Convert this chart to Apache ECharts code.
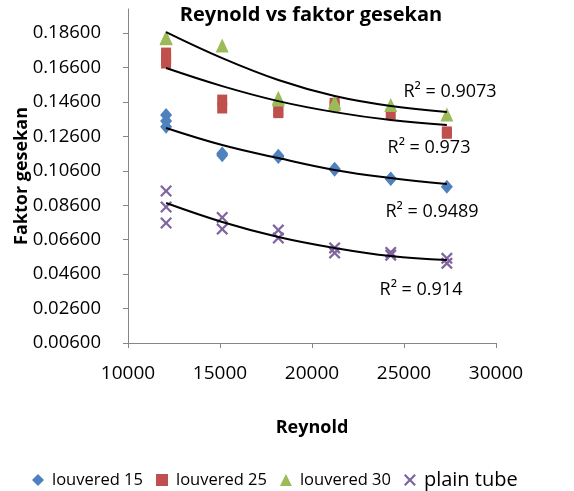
<!DOCTYPE html>
<html>
<head>
<meta charset="utf-8">
<script src="https://cdn.jsdelivr.net/npm/echarts@6/dist/echarts.min.js"></script>
<style>html,body{margin:0;padding:0;background:#fff}#c{width:574px;height:491px}</style>
</head>
<body>
<div id="c"></div>
<script>
// ---- data ----
const l15X = [12070, 12070, 12070, 15120, 15120, 18170, 18170, 21230, 21230, 24280, 24280, 27330];
const l15Y = [0.1385, 0.1350, 0.1316, 0.1160, 0.1150, 0.1148, 0.1140, 0.1072, 0.1066, 0.1016, 0.1012, 0.0968];
const l25X = [12070, 12070, 12070, 15120, 15120, 18170, 18170, 21230, 21230, 24280, 27330, 27330];
const l25Y = [0.1744, 0.1715, 0.1686, 0.1471, 0.1425, 0.1405, 0.1398, 0.1452, 0.1436, 0.1390, 0.1286, 0.1278];
const l30X = [12070, 12070, 15120, 18170, 18170, 21230, 21230, 24280, 27330];
const l30Y = [0.1835, 0.1830, 0.1788, 0.1485, 0.1475, 0.1460, 0.1448, 0.1442, 0.1387];
const plainX = [12070, 12070, 12070, 15120, 15120, 18170, 18170, 21230, 21230, 24280, 24280, 27330, 27330];
const plainY = [0.0943, 0.0850, 0.0757, 0.0789, 0.0722, 0.0716, 0.0670, 0.0612, 0.0583, 0.0586, 0.0570, 0.0552, 0.0523];

// trendlines
const trendX = [12070, 15120, 18170, 21230, 24280, 27330];
const trend15 = [0.1309, 0.1210, 0.1134, 0.1065, 0.1018, 0.0983];
const trend25 = [0.1657, 0.1552, 0.1465, 0.1401, 0.1355, 0.1326];
const trend30 = [0.1866, 0.1715, 0.1588, 0.1495, 0.1437, 0.1402];
const trendPlain = [0.0873, 0.0763, 0.0676, 0.0612, 0.0565, 0.0542];

const seriesNames = ['louvered 15', 'louvered 25', 'louvered 30', 'plain tube'];
const r2Labels = ['R² = 0.9489', 'R² = 0.973', 'R² = 0.9073', 'R² = 0.914'];
const yTicks = [0.006, 0.026, 0.046, 0.066, 0.086, 0.106, 0.126, 0.146, 0.166, 0.186];
const xTicks = [10000, 15000, 20000, 25000, 30000];

const FONT = 'Open Sans';
const colors = ['#4F81BD', '#C0504D', '#9BBB59', '#8064A2'];
const xPath = 'path://M0,1.6 L1.6,0 L6,4.4 L10.4,0 L12,1.6 L7.6,6 L12,10.4 L10.4,12 L6,7.6 L1.6,12 L0,10.4 L4.4,6 Z';
const symbols = ['diamond', 'rect', 'triangle', xPath];
const symSizes = [[12, 14], [10, 11], [13, 14], [12, 12]];

const zip = (xs, ys) => xs.map((x, i) => [x, ys[i]]);
const pts = [zip(l15X, l15Y), zip(l25X, l25Y), zip(l30X, l30Y), zip(plainX, plainY)];
const trends = [trend15, trend25, trend30, trendPlain];

const chart = echarts.init(document.getElementById('c'), null, {renderer: 'canvas'});

const series = [];
pts.forEach((d, i) => {
  series.push({
    name: seriesNames[i], type: 'scatter', data: d,
    symbol: symbols[i], symbolSize: symSizes[i],
    itemStyle: {color: colors[i], opacity: 1}, emphasis: {disabled: true}
  });
});
trends.forEach((t, i) => {
  series.push({
    name: 'trend' + i, type: 'line', data: zip(trendX, t), smooth: 0.4,
    showSymbol: false, symbol: 'none', lineStyle: {color: '#000', width: 2},
    emphasis: {disabled: true}, silent: true
  });
});

const r2Pos = [[432, 212], [429, 148], [450, 92], [421, 290]];

chart.setOption({
  animation: false,
  backgroundColor: '#fff',
  textStyle: {fontFamily: FONT},
  title: {
    text: 'Reynold vs faktor gesekan', left: 306, top: 0, textAlign: 'center',
    textStyle: {fontFamily: FONT, fontWeight: 'bold', fontSize: 20, color: '#000'}
  },
  grid: {left: 128, top: 9, width: 368, height: 334, containLabel: false},
  legend: {
    left: 27, top: 465, itemGap: 13, itemWidth: 12, itemHeight: 12,
    selectedMode: false,
    data: seriesNames.map((n, i) => ({name: n, icon: symbols[i], itemStyle: {color: colors[i]}})),
    formatter: n => n === 'plain tube' ? '{big|' + n + '}' : n,
    textStyle: {fontFamily: FONT, fontSize: 16.5, color: '#000', padding: [0, 0, 0, 3],
      rich: {big: {fontFamily: FONT, fontSize: 20, color: '#000'}}}
  },
  xAxis: {
    type: 'value', min: 10000, max: 30000, interval: 5000,
    name: 'Reynold', nameLocation: 'middle', nameGap: 76, nameMoveOverlap: false,
    nameTextStyle: {fontFamily: FONT, fontWeight: 'bold', fontSize: 18, color: '#000'},
    axisLine: {show: true, lineStyle: {color: '#868686', width: 1}},
    axisTick: {show: true, length: 5, lineStyle: {color: '#868686'}},
    axisLabel: {fontFamily: FONT, fontSize: 19, color: '#000', margin: 21,
      customValues: xTicks, formatter: v => String(Math.round(v))},
    splitLine: {show: false}
  },
  yAxis: {
    type: 'value', min: 0.006, max: 0.2,
    name: 'Faktor gesekan', nameLocation: 'middle', nameGap: 97, nameMoveOverlap: false,
    nameTextStyle: {fontFamily: FONT, fontWeight: 'bold', fontSize: 18, color: '#000'},
    axisLine: {show: true, lineStyle: {color: '#868686', width: 1}},
    axisTick: {show: true, length: 5, customValues: yTicks, lineStyle: {color: '#868686'}},
    axisLabel: {fontFamily: FONT, fontSize: 18.5, color: '#000', margin: 27,
      customValues: yTicks, formatter: v => v.toFixed(5)},
    splitLine: {show: false}
  },
  graphic: r2Labels.map((t, i) => ({
    type: 'text', x: r2Pos[i][0], y: r2Pos[i][1], z: 100,
    style: {text: t, fontFamily: FONT, fontSize: 18, fill: '#000', align: 'center', verticalAlign: 'middle'}
  })),
  series: series
});
</script>
</body>
</html>
